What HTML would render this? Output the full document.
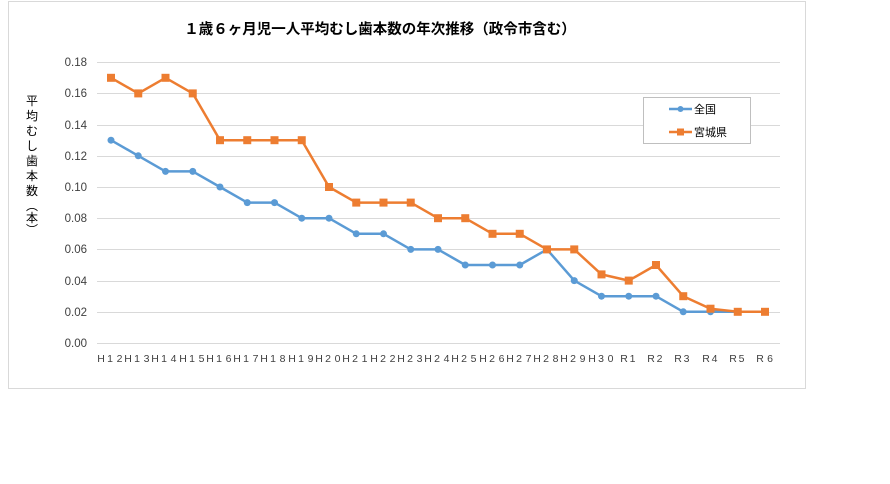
<!DOCTYPE html>
<html><head><meta charset="utf-8"><style>
body{margin:0;background:#fff;width:890px;height:479px;overflow:hidden}
svg text{font-family:"Liberation Sans","Noto Sans CJK JP",sans-serif}
</style></head><body>
<svg width="890" height="479" xmlns="http://www.w3.org/2000/svg">
<rect x="8.5" y="1.5" width="797" height="387" fill="#fff" stroke="#d9d9d9"/>
<text x="380" y="34" font-size="14.5" font-weight="bold" text-anchor="middle" fill="#000" style="font-family:'Noto Sans CJK JP',sans-serif">１歳６ヶ月児一人平均むし歯本数の年次推移（政令市含む）</text>
<g stroke="#d9d9d9" stroke-width="1">
<line x1="97" y1="62.5" x2="780" y2="62.5"/><line x1="97" y1="93.5" x2="780" y2="93.5"/>
<line x1="97" y1="125.5" x2="780" y2="125.5"/><line x1="97" y1="156.5" x2="780" y2="156.5"/>
<line x1="97" y1="187.5" x2="780" y2="187.5"/><line x1="97" y1="218.5" x2="780" y2="218.5"/>
<line x1="97" y1="249.5" x2="780" y2="249.5"/><line x1="97" y1="281.5" x2="780" y2="281.5"/>
<line x1="97" y1="312.5" x2="780" y2="312.5"/><line x1="97" y1="343.5" x2="780" y2="343.5"/>
</g>
<g font-size="11.5" fill="#404040" text-anchor="end">
<text x="87" y="66">0.18</text><text x="87" y="97">0.16</text><text x="87" y="129">0.14</text>
<text x="87" y="160">0.12</text><text x="87" y="191">0.10</text><text x="87" y="222">0.08</text>
<text x="87" y="253">0.06</text><text x="87" y="285">0.04</text><text x="87" y="316">0.02</text>
<text x="87" y="347">0.00</text>
</g>
<text font-size="12" fill="#000" style="font-family:'Noto Sans CJK JP',sans-serif" text-anchor="middle">
<tspan x="32" y="105">平</tspan><tspan x="32" y="120">均</tspan><tspan x="32" y="135">む</tspan><tspan x="32" y="150">し</tspan><tspan x="32" y="165">歯</tspan><tspan x="32" y="180">本</tspan><tspan x="32" y="195">数</tspan><tspan x="32" y="210">︵</tspan><tspan x="32" y="222">本</tspan><tspan x="32" y="234">︶</tspan>
</text>
<g font-size="10.5" fill="#404040" text-anchor="middle">
<text y="362"><tspan x="101">H</tspan><tspan x="110">1</tspan><tspan x="121">2</tspan>
<tspan x="128">H</tspan><tspan x="137">1</tspan><tspan x="148">3</tspan>
<tspan x="155">H</tspan><tspan x="164">1</tspan><tspan x="175">4</tspan>
<tspan x="183">H</tspan><tspan x="192">1</tspan><tspan x="203">5</tspan>
<tspan x="210">H</tspan><tspan x="219">1</tspan><tspan x="230">6</tspan>
<tspan x="237">H</tspan><tspan x="246">1</tspan><tspan x="257">7</tspan>
<tspan x="264">H</tspan><tspan x="273">1</tspan><tspan x="284">8</tspan>
<tspan x="292">H</tspan><tspan x="301">1</tspan><tspan x="312">9</tspan>
<tspan x="319">H</tspan><tspan x="328">2</tspan><tspan x="339">0</tspan>
<tspan x="346">H</tspan><tspan x="355">2</tspan><tspan x="366">1</tspan>
<tspan x="374">H</tspan><tspan x="383">2</tspan><tspan x="394">2</tspan>
<tspan x="401">H</tspan><tspan x="410">2</tspan><tspan x="421">3</tspan>
<tspan x="428">H</tspan><tspan x="437">2</tspan><tspan x="448">4</tspan>
<tspan x="455">H</tspan><tspan x="464">2</tspan><tspan x="475">5</tspan>
<tspan x="483">H</tspan><tspan x="492">2</tspan><tspan x="503">6</tspan>
<tspan x="510">H</tspan><tspan x="519">2</tspan><tspan x="530">7</tspan>
<tspan x="537">H</tspan><tspan x="546">2</tspan><tspan x="557">8</tspan>
<tspan x="564">H</tspan><tspan x="573">2</tspan><tspan x="584">9</tspan>
<tspan x="592">H</tspan><tspan x="601">3</tspan><tspan x="612">0</tspan>
<tspan x="624">R</tspan><tspan x="634">1</tspan>
<tspan x="651">R</tspan><tspan x="661">2</tspan>
<tspan x="678">R</tspan><tspan x="688">3</tspan>
<tspan x="706">R</tspan><tspan x="716">4</tspan>
<tspan x="733">R</tspan><tspan x="743">5</tspan>
<tspan x="760">R</tspan><tspan x="770">6</tspan>
</text></g>
<polyline fill="none" stroke="#5b9bd5" stroke-width="2.5" stroke-linejoin="round" points="111,140.2 138.25,155.8 165.5,171.4 192.75,171.4 220,187 247.25,202.6 274.5,202.6 301.75,218.2 329,218.2 356.25,233.8 383.5,233.8 410.75,249.4 438,249.4 465.25,265 492.5,265 519.75,265 547,249.4 574.25,280.6 601.5,296.2 628.75,296.2 656,296.2 683.25,311.8 710.5,311.8 737.75,311.8 765,311.8"/>
<g fill="#5b9bd5">
<circle cx="111" cy="140.2" r="3.5"/><circle cx="138.25" cy="155.8" r="3.5"/><circle cx="165.5" cy="171.4" r="3.5"/><circle cx="192.75" cy="171.4" r="3.5"/><circle cx="220" cy="187" r="3.5"/><circle cx="247.25" cy="202.6" r="3.5"/><circle cx="274.5" cy="202.6" r="3.5"/><circle cx="301.75" cy="218.2" r="3.5"/><circle cx="329" cy="218.2" r="3.5"/><circle cx="356.25" cy="233.8" r="3.5"/><circle cx="383.5" cy="233.8" r="3.5"/><circle cx="410.75" cy="249.4" r="3.5"/><circle cx="438" cy="249.4" r="3.5"/><circle cx="465.25" cy="265" r="3.5"/><circle cx="492.5" cy="265" r="3.5"/><circle cx="519.75" cy="265" r="3.5"/><circle cx="547" cy="249.4" r="3.5"/><circle cx="574.25" cy="280.6" r="3.5"/><circle cx="601.5" cy="296.2" r="3.5"/><circle cx="628.75" cy="296.2" r="3.5"/><circle cx="656" cy="296.2" r="3.5"/><circle cx="683.25" cy="311.8" r="3.5"/><circle cx="710.5" cy="311.8" r="3.5"/><circle cx="737.75" cy="311.8" r="3.5"/>
</g>
<polyline fill="none" stroke="#ed7d31" stroke-width="2.5" stroke-linejoin="round" points="111,77.8 138.25,93.4 165.5,77.8 192.75,93.4 220,140.2 247.25,140.2 274.5,140.2 301.75,140.2 329,187 356.25,202.6 383.5,202.6 410.75,202.6 438,218.2 465.25,218.2 492.5,233.8 519.75,233.8 547,249.4 574.25,249.4 601.5,274.4 628.75,280.6 656,265 683.25,296.2 710.5,308.7 737.75,311.8 765,311.8"/>
<g fill="#ed7d31">
<rect x="107" y="73.8" width="8" height="8"/><rect x="134.25" y="89.4" width="8" height="8"/><rect x="161.5" y="73.8" width="8" height="8"/><rect x="188.75" y="89.4" width="8" height="8"/><rect x="216" y="136.2" width="8" height="8"/><rect x="243.25" y="136.2" width="8" height="8"/><rect x="270.5" y="136.2" width="8" height="8"/><rect x="297.75" y="136.2" width="8" height="8"/><rect x="325" y="183" width="8" height="8"/><rect x="352.25" y="198.6" width="8" height="8"/><rect x="379.5" y="198.6" width="8" height="8"/><rect x="406.75" y="198.6" width="8" height="8"/><rect x="434" y="214.2" width="8" height="8"/><rect x="461.25" y="214.2" width="8" height="8"/><rect x="488.5" y="229.8" width="8" height="8"/><rect x="515.75" y="229.8" width="8" height="8"/><rect x="543" y="245.4" width="8" height="8"/><rect x="570.25" y="245.4" width="8" height="8"/><rect x="597.5" y="270.4" width="8" height="8"/><rect x="624.75" y="276.6" width="8" height="8"/><rect x="652" y="261" width="8" height="8"/><rect x="679.25" y="292.2" width="8" height="8"/><rect x="706.5" y="304.7" width="8" height="8"/><rect x="733.75" y="307.8" width="8" height="8"/><rect x="761" y="307.8" width="8" height="8"/>
</g>
<rect x="643.5" y="97.5" width="107" height="46" fill="#fff" stroke="#bfbfbf"/>
<line x1="669" y1="109" x2="692" y2="109" stroke="#5b9bd5" stroke-width="2.5"/><circle cx="680.5" cy="109" r="3" fill="#5b9bd5"/>
<line x1="669" y1="132" x2="692" y2="132" stroke="#ed7d31" stroke-width="2.5"/><rect x="677" y="128.5" width="7" height="7" fill="#ed7d31"/>
<g font-size="11" fill="#000" style="font-family:'Noto Sans CJK JP',sans-serif">
<text x="694" y="113">全国</text><text x="694" y="136">宮城県</text>
</g>
</svg>
</body></html>
